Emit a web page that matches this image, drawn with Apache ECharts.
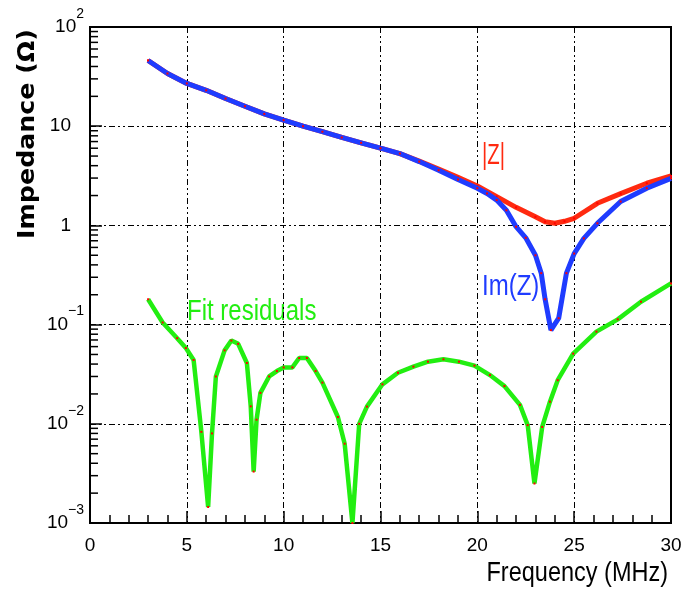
<!DOCTYPE html>
<html>
<head>
<meta charset="utf-8">
<script src="https://cdn.jsdelivr.net/npm/echarts@6/dist/echarts.min.js"></script>
<style>
html,body{margin:0;padding:0;background:#fff;}
#chart{width:690px;height:592px;}
</style>
</head>
<body>
<div id="chart"></div>
<script>
// ---- data ----
const freqAbsZ = [3, 4, 5, 6, 7, 8, 9, 10, 11, 12, 13, 14, 15, 16, 17, 18, 19, 20, 21, 22, 23, 23.5, 24, 24.5, 25, 26.2, 27.4, 28.75, 30];
const absZ     = [46, 34, 27, 23, 19, 15.9, 13.3, 11.5, 10.0, 8.8, 7.7, 6.8, 6.0, 5.3, 4.45, 3.7, 3.05, 2.5, 1.95, 1.52, 1.22, 1.09, 1.05, 1.1, 1.18, 1.67, 2.09, 2.66, 3.15];

const freqImZ = [3, 4, 5, 6, 7, 8, 9, 10, 11, 12, 13, 14, 15, 16, 17, 18, 19, 20, 20.5, 21, 21.5, 22, 22.5, 23, 23.3, 23.5, 23.8, 24.2, 24.6, 25, 25.5, 26.2, 27.4, 28.75, 30];
const imZ     = [46, 34, 27, 23, 19, 15.9, 13.3, 11.5, 10.0, 8.8, 7.7, 6.8, 6.0, 5.3, 4.4, 3.6, 2.9, 2.37, 2.1, 1.8, 1.42, 0.97, 0.75, 0.5, 0.33, 0.18, 0.088, 0.116, 0.33, 0.52, 0.74, 1.05, 1.74, 2.37, 2.98];

const freqFit = [3.0, 3.75, 4.5, 4.95, 5.35, 5.75, 6.1, 6.3, 6.5, 6.95, 7.3, 7.65, 8.1, 8.3, 8.45, 8.6, 8.8, 9.25, 9.65, 10.0, 10.45, 10.8, 11.2, 11.65, 12.0, 12.8, 13.15, 13.55, 13.9, 14.3, 15.1, 15.9, 16.7, 17.45, 18.25, 19.05, 19.85, 20.65, 21.4, 22.2, 22.6, 22.95, 23.35, 23.75, 24.15, 24.95, 26.15, 27.25, 28.45, 30];
const fitRes  = [0.18, 0.105, 0.073, 0.058, 0.044, 0.0083, 0.00145, 0.008, 0.03, 0.055, 0.069, 0.064, 0.041, 0.015, 0.0033, 0.011, 0.0205, 0.030, 0.034, 0.037, 0.037, 0.046, 0.046, 0.034, 0.026, 0.0117, 0.0063, 0.001, 0.01, 0.0149, 0.025, 0.0327, 0.0377, 0.0423, 0.0447, 0.0423, 0.0386, 0.031, 0.024, 0.0155, 0.0097, 0.0025, 0.0093, 0.0167, 0.0275, 0.051, 0.085, 0.113, 0.17, 0.26];

const xTickLabels = ['0', '5', '10', '15', '20', '25', '30'];
const yTickValues = [0.001, 0.01, 0.1, 1, 10, 100];
const yTickLabels = ['{b|10}{s|\u22123}', '{b|10}{s|\u22122}', '{b|10}{s|\u22121}', '{p|1}', '{p|10}', '{b|10}{s|2}'];
const yMinorMultipliers = [2, 3, 4, 5, 6, 7, 8, 9];
const yDecades = [0.001, 0.01, 0.1, 1, 10];

const seriesNames = ['|Z|', 'Im(Z)', 'Fit residuals'];
const xTitle = 'Frequency (MHz)';
const yTitle = 'Impedance (\u03A9)';

// ---- build ----
const zip = (xs, ys) => xs.map((x, i) => [x, ys[i]]);
const minorTickData = [];
yDecades.forEach(d => yMinorMultipliers.forEach(m => minorTickData.push([0, d * m])));

const LIB = "'Liberation Sans', Arial, sans-serif";

const chart = echarts.init(document.getElementById('chart'), null, {renderer: 'canvas'});

const gridLine = {show: true, lineStyle: {color: '#000', width: 1, type: [6, 3, 2, 3, 2, 3]}};

const option = {
  animation: false,
  backgroundColor: '#fff',
  grid: {left: 90, right: 19, top: 27, bottom: 69, show: true, borderColor: '#000', borderWidth: 2, backgroundColor: 'transparent'},
  xAxis: {
    type: 'value', min: 0, max: 30, interval: 5,
    axisLine: {show: true, onZero: false, lineStyle: {color: '#000', width: 2}},
    axisTick: {show: true, inside: true, length: 12, lineStyle: {color: '#000', width: 1.5}},
    minorTick: {show: true, splitNumber: 5, length: 8, lineStyle: {color: '#000', width: 1.5}},
    axisLabel: {
      margin: 13, color: '#000', fontSize: 19, fontFamily: LIB,
      formatter: (v) => { const i = Math.round(v / 5); return xTickLabels[i] !== undefined ? xTickLabels[i] : ''; }
    },
    splitLine: gridLine
  },
  yAxis: {
    type: 'log', logBase: 10, min: 0.001, max: 100,
    axisLine: {show: true, onZero: false, lineStyle: {color: '#000', width: 2}},
    axisTick: {show: true, inside: true, length: 12, lineStyle: {color: '#000', width: 1.5}},
    axisLabel: {
      margin: 6, color: '#000', fontFamily: LIB,
      formatter: (v) => {
        const i = yTickValues.findIndex(t => Math.abs(Math.log10(t) - Math.log10(v)) < 1e-6);
        return i >= 0 ? yTickLabels[i] : '';
      },
      rich: {
        b: {fontSize: 19, lineHeight: 20, fontFamily: LIB, color: '#000', padding: [10, 0, 10, 0]},
        s: {fontSize: 14, lineHeight: 14, fontFamily: LIB, color: '#000', padding: [0, 0, 26, 0]},
        p: {fontSize: 19, lineHeight: 20, fontFamily: LIB, color: '#000', padding: [0, 13, 0, 0]}
      }
    },
    splitLine: gridLine
  },
  series: [
    {
      type: 'custom', name: 'minorTicks', silent: true, clip: false, z: 5,
      data: minorTickData,
      renderItem: (params, api) => {
        const p = api.coord([api.value(0), api.value(1)]);
        return {type: 'line', shape: {x1: p[0], y1: p[1], x2: p[0] + 8, y2: p[1]}, style: {stroke: '#000', lineWidth: 1.5}};
      }
    },
    {
      type: 'line', name: seriesNames[0], data: zip(freqAbsZ, absZ),
      symbol: 'rect', symbolSize: 2, showSymbol: true, itemStyle: {color: '#ff0000'},
      lineStyle: {color: '#ff2a10', width: 5}, emphasis: {disabled: true}, z: 3
    },
    {
      type: 'line', name: seriesNames[1], data: zip(freqImZ, imZ),
      symbol: 'rect', symbolSize: 2, showSymbol: true, itemStyle: {color: '#ff0000'},
      lineStyle: {color: '#1f3cff', width: 5}, emphasis: {disabled: true}, z: 4
    },
    {
      type: 'line', name: seriesNames[2], data: zip(freqFit, fitRes),
      symbol: 'rect', symbolSize: 2, showSymbol: true, itemStyle: {color: '#ff0000'},
      lineStyle: {color: '#22ee11', width: 4.5}, emphasis: {disabled: true}, z: 4
    }
  ],
  graphic: [
    {type: 'text', x: 482, y: 142, scaleX: 0.85, scaleY: 1.2, silent: true,
     style: {text: seriesNames[0], fill: '#ff2a10', fontSize: 24, fontFamily: LIB, textAlign: 'left', textVerticalAlign: 'top', verticalAlign: 'top'}},
    {type: 'text', x: 482, y: 273, scaleY: 1.2, silent: true,
     style: {text: seriesNames[1], fill: '#1f3cff', fontSize: 24, fontFamily: LIB, textAlign: 'left', textVerticalAlign: 'top', verticalAlign: 'top'}},
    {type: 'text', x: 187, y: 298, scaleY: 1.2, silent: true,
     style: {text: seriesNames[2], fill: '#22ee11', fontSize: 24, fontFamily: LIB, textAlign: 'left', textVerticalAlign: 'top', verticalAlign: 'top'}},
    {type: 'text', x: 668, y: 573, scaleY: 1.2, silent: true,
     style: {text: xTitle, fill: '#000', fontSize: 23.5, fontFamily: LIB, textAlign: 'right', textVerticalAlign: 'middle', verticalAlign: 'middle'}},
    {type: 'text', x: 28, y: 134, rotation: Math.PI / 2, scaleX: 1.1, silent: true,
     style: {text: yTitle, fill: '#000', fontSize: 23, fontWeight: 'bold', fontFamily: "'DejaVu Sans', sans-serif", textAlign: 'center', textVerticalAlign: 'middle', verticalAlign: 'middle'}}
  ]
};
chart.setOption(option);
</script>
</body>
</html>
